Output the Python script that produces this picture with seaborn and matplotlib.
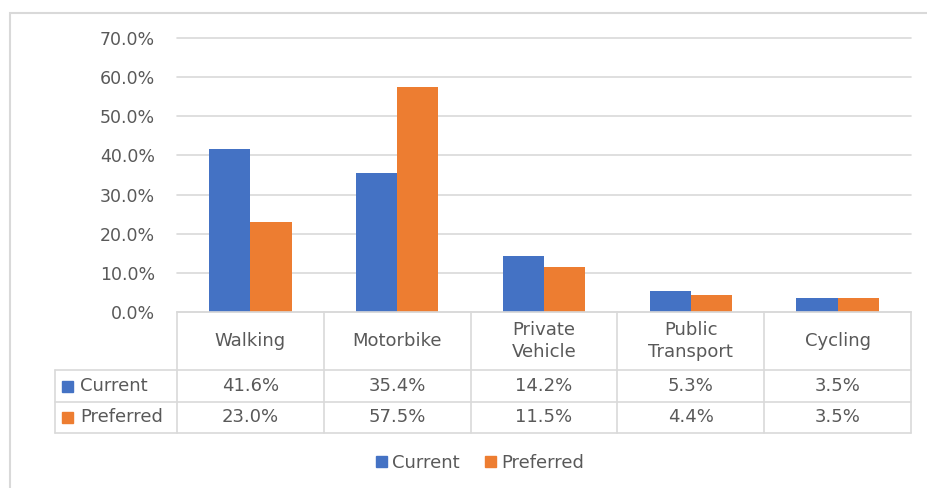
import matplotlib.pyplot as plt
import matplotlib.transforms as mtransforms
import pandas as pd
import seaborn as sns
from matplotlib.patches import Rectangle
from matplotlib.ticker import PercentFormatter

# Chart data
modes = ["Walking", "Motorbike", "Private\nVehicle", "Public\nTransport", "Cycling"]
series = ["Current", "Preferred"]
current = [41.6, 35.4, 14.2, 5.3, 3.5]
preferred = [23.0, 57.5, 11.5, 4.4, 3.5]
y_ticks = [0, 10, 20, 30, 40, 50, 60, 70]

colors = {"Current": "#4472C4", "Preferred": "#ED7D31"}
text_color = "#595959"
line_color = "#D9D9D9"

W, H = 927, 488
# plot area in pixels (from the top-left of the image)
PX_L, PX_R, PX_T, PX_B = 177, 911, 38, 312
# table rows: header bottom, row 1 bottom, row 2 bottom; label column left edge
ROW_Y = [370, 402, 433]
LABEL_L = 55


def build_frame():
    rows = []
    for name, values in zip(series, [current, preferred]):
        for mode, v in zip(modes, values):
            rows.append({"Mode": mode, "Series": name, "Share": v})
    return pd.DataFrame(rows)


def main():
    df = build_frame()

    sns.set_theme(style="white")
    plt.rcParams["font.family"] = ["DejaVu Sans"]

    fig = plt.figure(figsize=(W / 100, H / 100), dpi=100)
    ax = fig.add_axes([PX_L / W, 1 - PX_B / H, (PX_R - PX_L) / W, (PX_B - PX_T) / H])

    sns.barplot(
        data=df,
        x="Mode",
        y="Share",
        hue="Series",
        hue_order=series,
        order=modes,
        palette=colors,
        width=0.56,
        saturation=1,
        linewidth=0,
        ax=ax,
        legend=False,
    )

    ax.set_ylim(0, 70)
    ax.set_xlim(-0.5, len(modes) - 0.5)
    ax.set_yticks(y_ticks)
    ax.yaxis.set_major_formatter(PercentFormatter(decimals=1))
    ax.tick_params(axis="y", colors=text_color, labelsize=12.5, length=0, pad=16)
    ax.set_xticks([])
    ax.set_xlabel("")
    ax.set_ylabel("")
    ax.grid(axis="y", color=line_color, linewidth=1.2)
    for gl in ax.get_ygridlines():
        gl.set_clip_on(False)
    ax.set_axisbelow(True)
    for s in ax.spines.values():
        s.set_visible(False)

    # --- data table drawn under the plot area ---
    plot_h = PX_B - PX_T
    plot_w = PX_R - PX_L

    def ay(py):
        return (PX_B - py) / plot_h

    def axx(px):
        return (px - PX_L) / plot_w

    blend = mtransforms.blended_transform_factory(ax.transData, ax.transAxes)
    line_kw = dict(color=line_color, linewidth=1.2, clip_on=False)

    # horizontal rules
    ax.plot([axx(PX_L), axx(PX_R)], [0, 0], transform=ax.transAxes, **line_kw)
    for py in ROW_Y:
        ax.plot([axx(LABEL_L), axx(PX_R)], [ay(py), ay(py)], transform=ax.transAxes, **line_kw)
    # vertical rules between categories
    for i in range(len(modes) + 1):
        ax.plot([i - 0.5, i - 0.5], [0, ay(ROW_Y[-1])], transform=blend, **line_kw)
    ax.plot([axx(LABEL_L)] * 2, [ay(ROW_Y[0]), ay(ROW_Y[-1])], transform=ax.transAxes, **line_kw)

    # header and values
    header_y = ay((PX_B + ROW_Y[0]) / 2)
    for i, m in enumerate(modes):
        ax.text(i, header_y, m, transform=blend, ha="center", va="center",
                fontsize=13, color=text_color, linespacing=1.25)
    row_tops = [ROW_Y[0], ROW_Y[1]]
    row_bots = [ROW_Y[1], ROW_Y[2]]
    for s, vals, top, bot in zip(series, [current, preferred], row_tops, row_bots):
        yc = ay((top + bot) / 2)
        for i, v in enumerate(vals):
            ax.text(i, yc, f"{v:.1f}%", transform=blend, ha="center", va="center",
                    fontsize=13, color=text_color)
        ax.add_patch(Rectangle((axx(62), yc - 5.5 / plot_h), 11 / plot_w, 11 / plot_h,
                               transform=ax.transAxes, color=colors[s], clip_on=False))
        ax.text(axx(80), yc, s, transform=ax.transAxes, ha="left", va="center",
                fontsize=13, color=text_color)

    # legend
    handles = [Rectangle((0, 0), 1, 1, color=colors[s]) for s in series]
    fig.legend(handles, series, loc="center", bbox_to_anchor=(480 / W, 1 - 463 / H),
               ncol=2, frameon=False, fontsize=13, handlelength=0.6, handleheight=0.6,
               handletextpad=0.3, columnspacing=1.4, labelcolor=text_color)

    # chart area outline
    fig.add_artist(Rectangle((10 / W, -0.05), 1.0, 1 - 13 / H + 0.05,
                             transform=fig.transFigure, fill=False,
                             edgecolor="#D9D9D9", linewidth=1.5))

    fig.savefig("out.png", dpi=100)


if __name__ == "__main__":
    main()
